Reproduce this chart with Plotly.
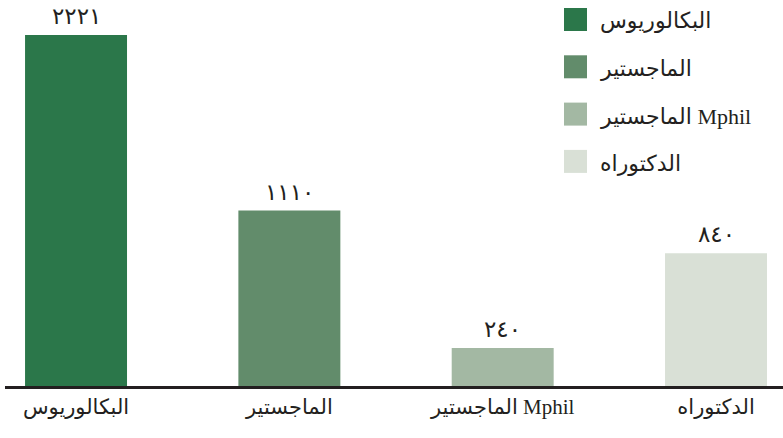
import plotly.graph_objects as go

categories = ["البكالوريوس", "الماجستير", "الماجستير Mphil", "الدكتوراه"]
values = [2221, 1110, 240, 840]
colors = ["#2B774A", "#628C6B", "#A3B8A3", "#D9E0D6"]

AR_DIGITS = str.maketrans("0123456789", "٠١٢٣٤٥٦٧٨٩")
value_labels = [str(v).translate(AR_DIGITS) for v in values]

FONT = "Liberation Serif, DejaVu Sans, serif"
TXT = "#231F20"

fig = go.Figure()
fig.add_trace(go.Bar(
    x=categories,
    y=values,
    marker=dict(color=colors, line=dict(width=0)),
    width=0.478,
    showlegend=False,
    hoverinfo="x+y",
))

annotations = []
# value labels above bars
for cat, val, lab in zip(categories, values, value_labels):
    annotations.append(dict(x=cat, y=val, xref="x", yref="y",
                            text=lab, showarrow=False,
                            xanchor="center", yanchor="bottom", yshift=4,
                            font=dict(family=FONT, size=23, color=TXT)))

# legend built as squares + labels (top right)
W, H = 778.0, 386.0
shapes = []
for i, (name, col) in enumerate(zip(categories, colors)):
    cy = 19.5 + i * 47.3
    shapes.append(dict(type="rect", xref="paper", yref="paper",
                       x0=(564 - 5) / W, x1=(587 - 5) / W,
                       y0=1 - (cy + 11.5) / H, y1=1 - (cy - 11.5) / H,
                       fillcolor=col, line=dict(width=0)))
    annotations.append(dict(xref="paper", yref="paper",
                            x=(598 - 5) / W, y=1 - (cy + 2) / H,
                            xanchor="left", yanchor="middle",
                            text=name, showarrow=False,
                            font=dict(family=FONT, size=22, color=TXT)))

fig.update_layout(
    width=783, height=438,
    margin=dict(l=5, r=0, t=0, b=52),
    paper_bgcolor="white", plot_bgcolor="white",
    bargap=0.52,
    shapes=shapes,
    annotations=annotations,
    xaxis=dict(
        type="category",
        range=[-0.333, 3.314],
        showline=True, linecolor="#231F20", linewidth=3,
        showgrid=False, zeroline=False, ticks="",
        tickfont=dict(family=FONT, size=21, color=TXT),
        fixedrange=True,
    ),
    yaxis=dict(
        range=[0, 2442.5],
        showgrid=False, zeroline=False, showline=False,
        showticklabels=False, ticks="",
        fixedrange=True,
    ),
    font=dict(family=FONT, color=TXT),
)

fig.write_html("out.html")
